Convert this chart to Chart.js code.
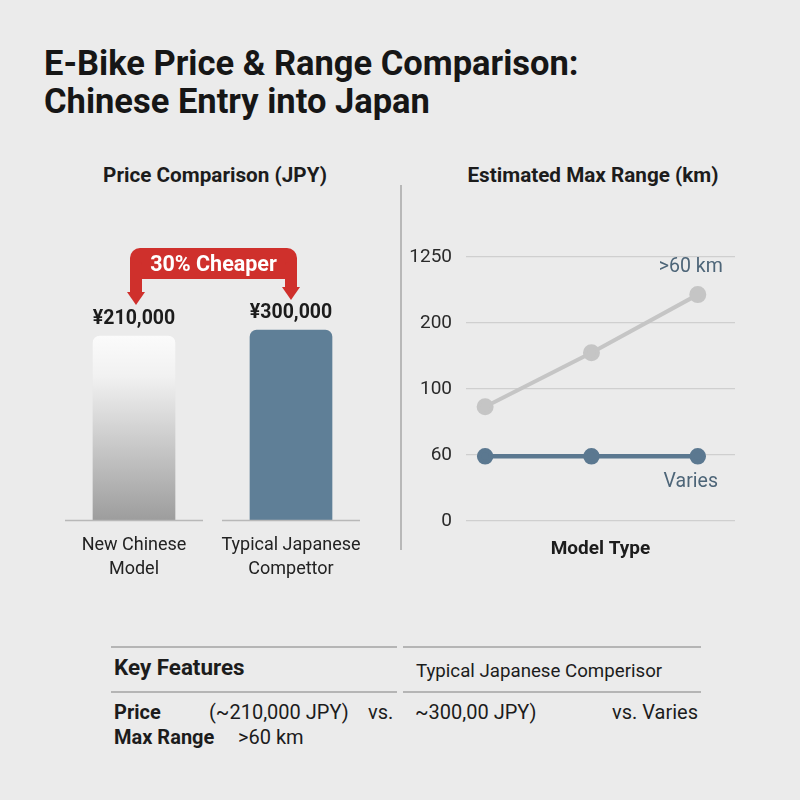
<!DOCTYPE html>
<html>
<head>
<meta charset="utf-8">
<script src="https://cdn.jsdelivr.net/npm/chart.js@4.4.0/dist/chart.umd.min.js"></script>
<style>
  body { margin: 0; background: #ebebeb; font-family: Roboto, sans-serif; color: #1c1c1c; }
  #page { position: relative; width: 800px; height: 800px; overflow: hidden; background: #ebebeb; }
  .t { position: absolute; white-space: nowrap; }
  #title { left: 44px; top: 44px; font-size: 34.5px; line-height: 38px; font-weight: 700; color: #161616; }
  .sub { font-size: 20.7px; font-weight: 700; top: 163px; transform: translateX(-50%); }
  #divider { position: absolute; left: 400px; top: 185px; width: 1.5px; height: 365px; background: #b8b8b8; }
  #priceBox { position: absolute; left: 40px; top: 190px; width: 340px; height: 400px; }
  #rangeBox { position: absolute; left: 400px; top: 190px; width: 360px; height: 400px; }
  .rule { position: absolute; height: 1.5px; background: #b5b5b5; }
  .tb { font-size: 20px; }
  .b { font-weight: 700; }
</style>
</head>
<body>
<div id="page">
  <div id="title" class="t">E-Bike Price &amp; Range Comparison:<br>Chinese Entry into Japan</div>
  <div class="t sub" style="left:215px;">Price Comparison (JPY)</div>
  <div class="t sub" style="left:593px;">Estimated Max Range (km)</div>
  <div id="divider"></div>
  <div id="priceBox"><canvas id="priceChart"></canvas></div>
  <div id="rangeBox"><canvas id="rangeChart"></canvas></div>

  <div class="rule" style="left:111px; top:646px; width:286px;"></div>
  <div class="rule" style="left:403px; top:646px; width:298px;"></div>
  <div class="t b" style="left:114px; top:654px; font-size:22.4px;">Key Features</div>
  <div class="t" style="left:416px; top:660px; font-size:18.7px;">Typical Japanese Comperisor</div>
  <div class="rule" style="left:111px; top:691px; width:286px;"></div>
  <div class="rule" style="left:403px; top:691px; width:298px;"></div>
  <div class="t tb b" style="left:114px; top:700px;">Price</div>
  <div class="t tb" style="left:209px; top:700px;">(~210,000 JPY)</div>
  <div class="t tb" style="left:368px; top:700px;">vs.</div>
  <div class="t tb" style="left:415px; top:700px;">~300,00 JPY)</div>
  <div class="t tb" style="right:102px; top:700px;">vs. Varies</div>
  <div class="t tb b" style="left:114px; top:725px;">Max Range</div>
  <div class="t tb" style="left:238px; top:725px;">&gt;60 km</div>
</div>

<script>
// price chart
const models = [["New Chinese", "Model"], ["Typical Japanese", "Compettor"]];
const prices = [210000, 300000];
const priceLabels = ["¥210,000", "¥300,000"];
const priceBase = -2550000; // value axis starts far below zero, as drawn
const priceTop = 1650000;
const savingText = "30% Cheaper";

// range chart (values in axis steps, the axis is not to scale)
const rangeTicks = ["0", "60", "100", "200", "1250"];
const modelSteps = [0, 1, 2];
const chineseRange = [1.73, 2.55, 3.43];
const japaneseRange = [0.98, 0.98, 0.98];
const chineseNote = ">60 km";
const japaneseNote = "Varies";

const priceDecor = {
  id: "priceDecor",
  afterDatasetsDraw(chart) {
    const { ctx, chartArea } = chart;
    const bars = chart.getDatasetMeta(0).data;
    ctx.save();

    ctx.strokeStyle = "#b8b8b8";
    ctx.lineWidth = 1.5;
    bars.forEach(b => {
      ctx.beginPath();
      ctx.moveTo(b.x - 69, chartArea.bottom + 0.5);
      ctx.lineTo(b.x + 69, chartArea.bottom + 0.5);
      ctx.stroke();
    });

    ctx.font = "bold 19.5px Roboto";
    ctx.fillStyle = "#1c1c1c";
    ctx.textAlign = "center";
    ctx.textBaseline = "middle";
    bars.forEach((b, i) => ctx.fillText(priceLabels[i], b.x, b.y - 17));

    // red banner with arrows pointing at both prices
    const a0 = bars[0].x + 2;
    const a1 = bars[1].x;
    const top = chartArea.top + 8;
    ctx.fillStyle = "#cf302c";
    ctx.beginPath();
    ctx.roundRect(a0 - 6, top, a1 - a0 + 12, 31, 10);
    ctx.fill();
    [[a0, bars[0].y - 31], [a1, bars[1].y - 30]].forEach(([x, tip]) => {
      ctx.beginPath();
      ctx.roundRect(x - 6, top + 14, 12, tip - top - 24, 3);
      ctx.fill();
      ctx.beginPath();
      ctx.moveTo(x - 9, tip - 13);
      ctx.lineTo(x + 9, tip - 13);
      ctx.lineTo(x, tip);
      ctx.closePath();
      ctx.fill();
    });
    ctx.font = "bold 21.5px Roboto";
    ctx.fillStyle = "#ffffff";
    ctx.fillText(savingText, (a0 + a1) / 2, top + 18);
    ctx.restore();
  }
};

new Chart(document.getElementById("priceChart"), {
  type: "bar",
  data: {
    labels: models,
    datasets: [{
      data: prices,
      base: priceBase,
      barThickness: 82,
      borderRadius: { topLeft: 7, topRight: 7 },
      borderSkipped: "bottom",
      backgroundColor: (c) => {
        if (c.dataIndex === 1) return "#5f7f97";
        const area = c.chart.chartArea;
        const y = c.chart.scales.y;
        if (!area || !y) return "#cccccc";
        const g = c.chart.ctx.createLinearGradient(0, y.getPixelForValue(prices[0]), 0, area.bottom);
        g.addColorStop(0, "#fbfbfb");
        g.addColorStop(0.22, "#f1f1f1");
        g.addColorStop(1, "#9d9d9d");
        return g;
      }
    }]
  },
  options: {
    responsive: true,
    maintainAspectRatio: false,
    animation: false,
    layout: { padding: { left: 15.5, right: 10.5, top: 50, bottom: 0 } },
    plugins: { legend: { display: false }, tooltip: { enabled: false } },
    scales: {
      x: {
        grid: { display: false, drawTicks: false },
        border: { display: false },
        ticks: { color: "#222", font: { family: "Roboto", size: 18, lineHeight: 1.33 }, padding: 14 },
        afterFit: (s) => { s.height = 70; }
      },
      y: { display: false, min: priceBase, max: priceTop }
    }
  },
  plugins: [priceDecor]
});

const rangeNotes = {
  id: "rangeNotes",
  afterDatasetsDraw(chart) {
    const { ctx } = chart;
    const last = modelSteps.length - 1;
    const p0 = chart.getDatasetMeta(0).data[last];
    const p1 = chart.getDatasetMeta(1).data[last];
    ctx.save();
    ctx.font = "19.5px Roboto";
    ctx.fillStyle = "#4d6578";
    ctx.textAlign = "center";
    ctx.textBaseline = "middle";
    ctx.fillText(chineseNote, p0.x - 7, p0.y - 27);
    ctx.fillText(japaneseNote, p1.x - 7, p1.y + 26);
    ctx.restore();
  }
};

new Chart(document.getElementById("rangeChart"), {
  type: "line",
  data: {
    datasets: [
      {
        data: modelSteps.map((x, i) => ({ x, y: chineseRange[i] })),
        borderColor: "#c5c5c5",
        backgroundColor: "#c5c5c5",
        borderWidth: 4,
        pointRadius: 6.5,
        tension: 0
      },
      {
        data: modelSteps.map((x, i) => ({ x, y: japaneseRange[i] })),
        borderColor: "#5b7890",
        backgroundColor: "#5b7890",
        borderWidth: 4.5,
        pointRadius: 6,
        tension: 0
      }
    ]
  },
  options: {
    responsive: true,
    maintainAspectRatio: false,
    animation: false,
    layout: { padding: { left: 0, right: 25, top: 67, bottom: 0 } },
    plugins: { legend: { display: false }, tooltip: { enabled: false } },
    scales: {
      x: {
        type: "linear",
        min: -0.18,
        max: 2.35,
        grid: { display: false, drawTicks: false },
        border: { display: false },
        ticks: { display: false },
        title: {
          display: true,
          text: "Model Type",
          color: "#1c1c1c",
          font: { family: "Roboto", size: 19, weight: "bold" },
          padding: { top: 0, bottom: 29 }
        },
        afterFit: (s) => { s.height = 69; }
      },
      y: {
        min: 0,
        max: rangeTicks.length - 1,
        grid: { color: "#cfcfcf", lineWidth: 1.2, drawTicks: false },
        border: { display: false },
        ticks: {
          stepSize: 1,
          padding: 14,
          color: "#2a2a2a",
          font: { family: "Roboto", size: 19 },
          callback: (v) => rangeTicks[v]
        },
        afterFit: (s) => { s.width = 66; }
      }
    }
  },
  plugins: [rangeNotes]
});
</script>
</body>
</html>
